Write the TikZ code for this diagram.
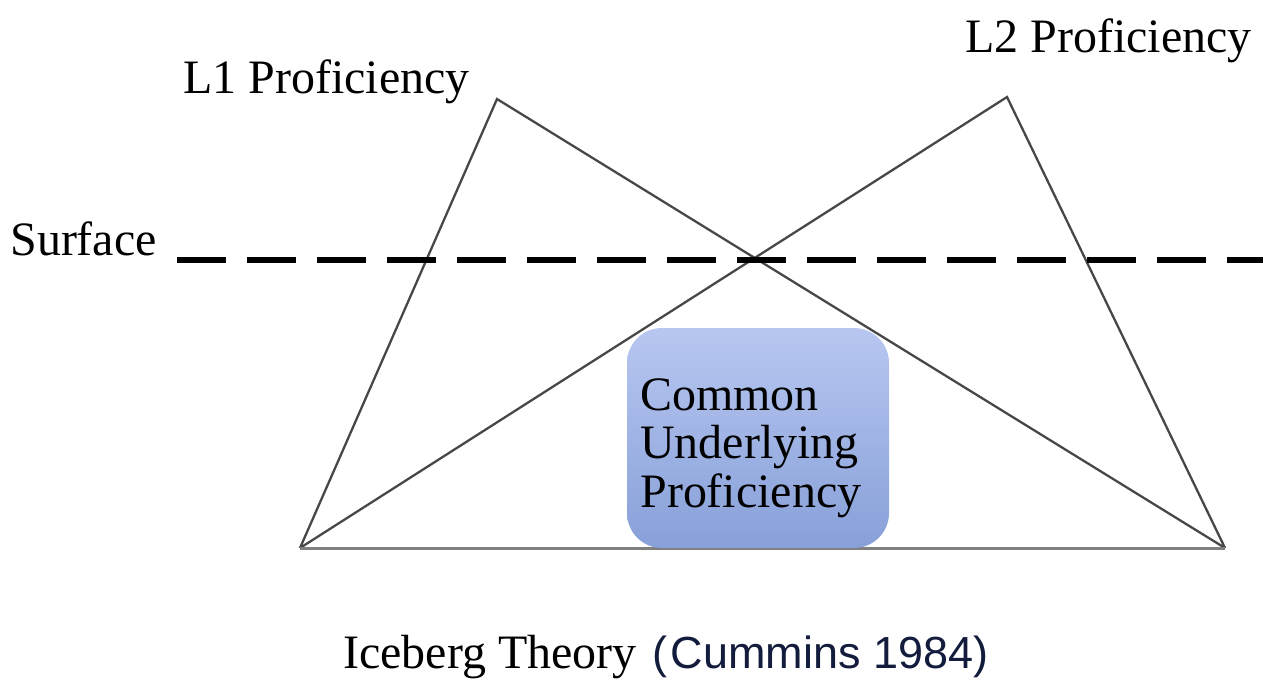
\documentclass[tikz,border=0pt]{standalone}
\usepackage{fontspec}
\setmainfont{Liberation Serif}
\newfontfamily\capsans{Liberation Sans}
\begin{document}
\begin{tikzpicture}[x=0.02cm,y=-0.02cm,
  lbl/.style={inner sep=0pt,anchor=base west,font=\fontsize{27.3pt}{27.3pt}\selectfont},
  edge/.style={draw=black!72,line width=1.3pt},
  baseedge/.style={draw=black!50,line width=1.7pt},
  surfaceline/.style={draw=black,line width=2.9pt,dash pattern=on 0.98cm off 0.42cm},
  cupbox/.style={rounded corners=0.7cm,top color=cupTop,bottom color=cupBottom,draw=none}]
\definecolor{cupTop}{HTML}{B8C7F1}
\definecolor{cupBottom}{HTML}{87A0D8}
\definecolor{citeBlue}{HTML}{131C3C}
\useasboundingbox (0,0) rectangle (1263,680);

% apexes and base corners of the two triangles
\coordinate (a1) at (497,99);
\coordinate (a2) at (1007,97);
\coordinate (bl) at (300,548);
\coordinate (br) at (1225,548);
\coordinate (s0) at (177,260);
\coordinate (s1) at (1263,260);

\draw[edge] (bl) -- (a1) -- (br);
\draw[edge] (bl) -- (a2) -- (br);
\draw[baseedge] (bl) -- (br);
\draw[surfaceline] (s0) -- (s1);

% shared proficiency box
\path[cupbox] (627,328) rectangle (889,548);
\node[lbl] (cup1) at (640,410) {Common};
\node[lbl] (cup2) at (640,458) {Underlying};
\node[lbl] (cup3) at (640,507) {Proficiency};

% labels
\node[lbl] (l1) at (183,93) {L1 Proficiency};
\node[lbl] (l2) at (965,52) {L2 Proficiency};
\node[lbl] (surf) at (10,255) {Surface};
\node[lbl] (cap) at (343,668) {Iceberg Theory};
\node[inner sep=0pt,anchor=base west,text=citeBlue,font=\capsans\fontsize{25.6pt}{25.6pt}\selectfont] (cite) at (652,668) {(\kern0.08em Cummins 1984)};
\end{tikzpicture}
\end{document}
